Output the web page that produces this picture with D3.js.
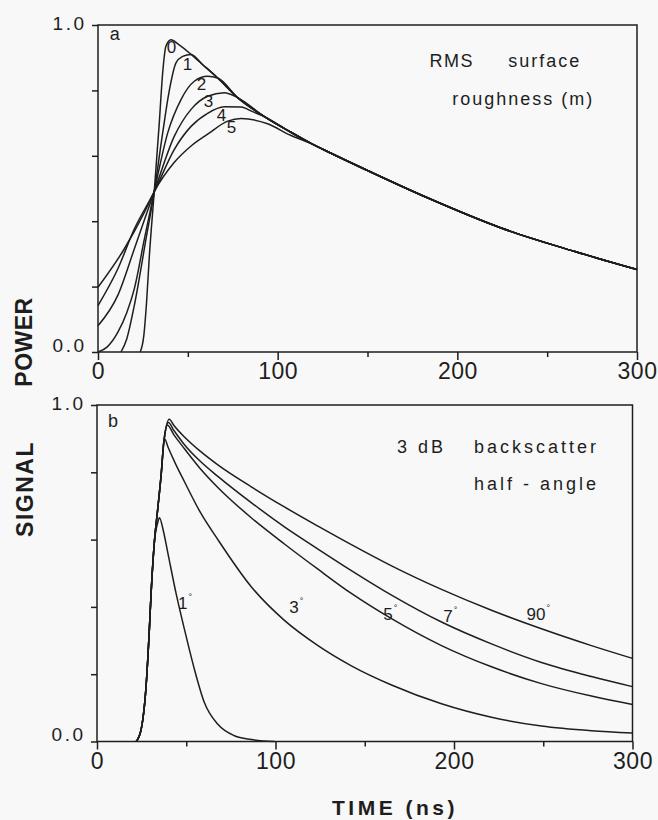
<!DOCTYPE html>
<html>
<head>
<meta charset="utf-8">
<script src="https://cdn.jsdelivr.net/npm/d3@7"></script>
<style>
    body { margin: 0; background: #f7f8f7; }
    svg { display: block; }
    text { font-family: "Liberation Sans", Arial, sans-serif; fill: #1e1e1e; }
</style>
</head>
<body>
<script>
// ---- panel a: power vs time for RMS surface roughness 0..5 m ----
var roughnessNames = ["0", "1", "2", "3", "4", "5"];
// rising part of each curve, [time ns, power]
var rough0 = [[23.5, 0], [25.5, 0.05], [27, 0.15], [28.6, 0.295], [31.3, 0.49], [34.1, 0.70], [36, 0.854], [37.8, 0.935]];
var rough1 = [[12.8, 0], [16, 0.04], [20.2, 0.142], [26.7, 0.345], [31.3, 0.49], [36, 0.67], [39.7, 0.80], [43.4, 0.884], [47.1, 0.904]];
var rough2 = [[0, 0], [5, 0.015], [11, 0.06], [16, 0.12], [20.2, 0.193], [25.8, 0.345], [31.3, 0.49], [38.8, 0.67], [46.2, 0.772], [53.6, 0.828], [61, 0.843]];
var rough3 = [[0, 0.08], [11, 0.173], [20.2, 0.315], [31.3, 0.49], [42.5, 0.66], [51.8, 0.742], [61, 0.782], [70.3, 0.793]];
var rough4 = [[0, 0.142], [11, 0.254], [20.2, 0.376], [31.3, 0.49], [42.5, 0.62], [51.8, 0.69], [61, 0.73], [70.3, 0.75], [79.6, 0.749], [86, 0.735]];
var rough5 = [[0, 0.198], [14.6, 0.315], [25.8, 0.427], [31.3, 0.49], [42.5, 0.58], [51.8, 0.63], [61, 0.666], [72.2, 0.706], [79.6, 0.714], [94.4, 0.698], [107.4, 0.662]];
// common decay that all roughness curves join
var envelopeA = [[40.6, 0.955], [45, 0.94], [51.8, 0.91], [58, 0.88], [66.6, 0.838], [77.7, 0.778], [92.6, 0.72], [107.4, 0.672],
    [118.5, 0.638], [130, 0.607], [150, 0.555], [184, 0.47], [224, 0.38], [265, 0.308], [300, 0.252]];
// where the roughness numbers sit, [time, power]
var roughnessLabelAt = [[38.3, 0.915], [47.2, 0.863], [55, 0.802], [58.9, 0.75], [66.1, 0.707], [71.7, 0.671]];

// ---- panel b: signal vs time for 3 dB backscatter half-angle ----
var angleNames = ["1", "3", "5", "7", "90"];
var riseB = [[22, 0], [24.7, 0.035], [27.5, 0.165], [29.3, 0.33], [30.3, 0.44], [32.1, 0.59]];
var angle1 = [[34, 0.65], [35, 0.665], [37, 0.63], [39.7, 0.56], [44.3, 0.44], [49, 0.333], [54.6, 0.214], [60.2, 0.115],
    [67.7, 0.051], [77, 0.017], [86.4, 0.006], [99.4, 0]];
var angle3 = [[34, 0.69], [35.9, 0.79], [37.8, 0.90], [40, 0.872], [44, 0.825], [49, 0.772], [58, 0.68], [67.7, 0.60], [86.4, 0.46], [105, 0.36],
    [123.8, 0.285], [142.5, 0.225], [165, 0.168], [193, 0.112], [221, 0.072], [249, 0.046], [277, 0.032], [300, 0.025]];
var angle5 = [[34, 0.69], [35.9, 0.79], [37.4, 0.885], [39.5, 0.94], [43, 0.912], [49, 0.87], [58, 0.81], [67.7, 0.755], [86.4, 0.665],
    [105, 0.587], [123.8, 0.512], [142.5, 0.44], [165, 0.365], [193, 0.285], [221, 0.222], [249, 0.172], [277, 0.135], [300, 0.11]];
var angle7 = [[34, 0.69], [35.9, 0.79], [37.4, 0.89], [40, 0.948], [43, 0.925], [49, 0.882], [58, 0.832], [67.7, 0.788], [86.4, 0.71],
    [105, 0.638], [123.8, 0.572], [142.5, 0.508], [165, 0.435], [193, 0.355], [221, 0.29], [249, 0.235], [277, 0.193], [300, 0.163]];
var angle90 = [[34, 0.69], [35.9, 0.79], [37.4, 0.89], [40.5, 0.958], [43, 0.94], [49, 0.905], [58, 0.862], [67.7, 0.822], [86.4, 0.757],
    [105, 0.697], [123.8, 0.64], [142.5, 0.585], [165, 0.522], [193, 0.452], [221, 0.39], [249, 0.335], [277, 0.285], [300, 0.247]];
var angleLabelAt = [[45.4, 0.393], [107.7, 0.382], [160.4, 0.362], [194, 0.356], [240.6, 0.362]];

// tick values shared by both panels
var timeMajor = [0, 100, 200, 300];
var timeMinor = [50, 150, 250];
var valueTicks = [0, 0.2, 0.4, 0.6, 0.8, 1.0];

var svg = d3.select("body").append("svg")
    .attr("width", 658)
    .attr("height", 820);

var ink = "#1e1e1e";

// draws the box, ticks and tick labels of one panel and returns its scales
function drawPanel(xRange, yRange) {
    var x = d3.scaleLinear().domain([0, 300]).range(xRange);
    var y = d3.scaleLinear().domain([0, 1]).range(yRange);
    var g = svg.append("g");

    // frame
    g.append("rect")
        .attr("x", x(0)).attr("y", y(1))
        .attr("width", x(300) - x(0)).attr("height", y(0) - y(1))
        .attr("fill", "none").attr("stroke", ink).attr("stroke-width", 1.5);

    // time axis, long ticks with labels and short ticks between them
    var xMajor = g.append("g")
        .attr("transform", "translate(0," + y(0) + ")")
        .call(d3.axisBottom(x).tickValues(timeMajor).tickSize(8).tickFormat(d3.format("d")));
    xMajor.selectAll("text")
        .attr("y", 27).attr("dy", null)
        .style("font-size", "23px")
        .style("letter-spacing", "0.5px");
    g.append("g")
        .attr("transform", "translate(0," + y(0) + ")")
        .call(d3.axisBottom(x).tickValues(timeMinor).tickSize(5).tickFormat(""));

    // value axis, only 0.0 and 1.0 labelled
    var yAxis = g.append("g")
        .attr("transform", "translate(" + x(0) + ",0)")
        .call(d3.axisLeft(y).tickValues(valueTicks).tickSize(6)
            .tickFormat(function (d) { return (d === 0 || d === 1) ? d3.format(".1f")(d) : ""; }));
    yAxis.selectAll("text")
        .attr("x", -11.5)
        .attr("dy", function (d) { return d === 0 ? "-0.05em" : "0.25em"; })
        .style("font-size", "19px")
        .style("letter-spacing", "2.5px");

    g.selectAll(".domain").remove();
    g.selectAll(".tick line").attr("stroke", ink).attr("stroke-width", 1.5);
    g.selectAll("g").attr("font-family", null).attr("font-size", null);

    return { g: g, x: x, y: y };
}

function lineFor(p) {
    return d3.line()
        .x(function (d) { return p.x(d[0]); })
        .y(function (d) { return p.y(d[1]); })
        .curve(d3.curveMonotoneX);
}

// ---------- panel a ----------
var pa = drawPanel([98, 637], [352, 25]);
var roughCurves = [rough0, rough1, rough2, rough3, rough4, rough5].map(function (own) {
    var last = own[own.length - 1][0];
    return own.concat(envelopeA.filter(function (d) { return d[0] > last; }));
});

pa.g.selectAll(".rough-line")
    .data(roughCurves)
    .enter().append("path")
    .attr("class", "rough-line")
    .attr("d", lineFor(pa))
    .attr("fill", "none")
    .attr("stroke", ink)
    .attr("stroke-width", 1.5);

pa.g.selectAll(".rough-label")
    .data(roughnessNames)
    .enter().append("text")
    .attr("class", "rough-label")
    .attr("x", function (d, i) { return pa.x(roughnessLabelAt[i][0]); })
    .attr("y", function (d, i) { return pa.y(roughnessLabelAt[i][1]); })
    .style("font-size", "17px")
    .text(function (d) { return d; });

pa.g.append("text")
    .attr("x", pa.x(6.5)).attr("y", pa.y(0.955))
    .style("font-size", "18px")
    .text("a");

pa.g.append("text")
    .attr("x", pa.x(184.5)).attr("y", pa.y(0.872))
    .style("font-size", "18px").style("letter-spacing", "1.5px")
    .text("RMS");
pa.g.append("text")
    .attr("x", pa.x(228.3)).attr("y", pa.y(0.872))
    .style("font-size", "18px").style("letter-spacing", "2px")
    .text("surface");
pa.g.append("text")
    .attr("x", pa.x(197.2)).attr("y", pa.y(0.755))
    .style("font-size", "18px").style("letter-spacing", "2px")
    .text("roughness (m)");

// ---------- panel b ----------
var pb = drawPanel([97, 632.5], [741.5, 405]);
var angleCurves = [angle1, angle3, angle5, angle7, angle90].map(function (own) {
    return riseB.concat(own);
});

pb.g.selectAll(".angle-line")
    .data(angleCurves)
    .enter().append("path")
    .attr("class", "angle-line")
    .attr("d", lineFor(pb))
    .attr("fill", "none")
    .attr("stroke", ink)
    .attr("stroke-width", 1.5);

var angleLabels = pb.g.selectAll(".angle-label")
    .data(angleNames)
    .enter().append("text")
    .attr("class", "angle-label")
    .attr("x", function (d, i) { return pb.x(angleLabelAt[i][0]); })
    .attr("y", function (d, i) { return pb.y(angleLabelAt[i][1]); })
    .style("font-size", "17px");
angleLabels.append("tspan").text(function (d) { return d; });
angleLabels.append("tspan")
    .attr("dx", 1).attr("dy", -9)
    .style("font-size", "9px")
    .text("°");

pb.g.append("text")
    .attr("x", pb.x(6.2)).attr("y", pb.y(0.935))
    .style("font-size", "18px")
    .text("b");

pb.g.append("text")
    .attr("x", pb.x(168.1)).attr("y", pb.y(0.857))
    .style("font-size", "18px").style("letter-spacing", "3px")
    .text("3 dB");
pb.g.append("text")
    .attr("x", pb.x(211.2)).attr("y", pb.y(0.857))
    .style("font-size", "18px").style("letter-spacing", "3px")
    .text("backscatter");
pb.g.append("text")
    .attr("x", pb.x(211.2)).attr("y", pb.y(0.747))
    .style("font-size", "18px").style("letter-spacing", "3px")
    .text("half - angle");

// ---------- axis titles ----------
svg.append("text")
    .attr("transform", "translate(32,342) rotate(-90)")
    .attr("text-anchor", "middle")
    .style("font-size", "23px").style("font-weight", "bold").style("letter-spacing", "0.5px")
    .text("POWER");

svg.append("text")
    .attr("transform", "translate(33,489) rotate(-90)")
    .attr("text-anchor", "middle")
    .style("font-size", "23px").style("font-weight", "bold").style("letter-spacing", "1.5px")
    .text("SIGNAL");

svg.append("text")
    .attr("x", 332).attr("y", 815)
    .style("font-size", "21px").style("font-weight", "bold").style("letter-spacing", "3.5px")
    .text("TIME (ns)");
</script>
</body>
</html>
